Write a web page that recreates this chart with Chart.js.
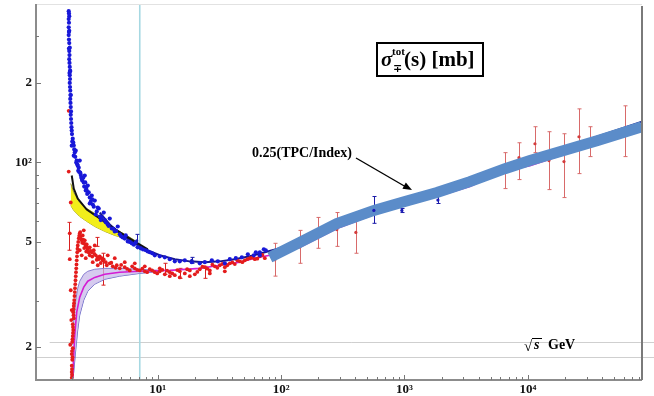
<!DOCTYPE html>
<html lang="en">
<head>
<meta charset="UTF-8">
<title>Total cross sections pp / pbar-p</title>
<script src="https://cdn.jsdelivr.net/npm/chart.js"></script>
<style>
  body { margin: 0; background: #fff; }
  #chart { display: block; }
</style>
</head>
<body>
<canvas id="chart" width="654" height="396"></canvas>
<script>
// sqrt(s) in GeV, sigma_tot in mb

// pbar-p data points
const pbarpPoints = [
  [1.897,374],[1.897,349],[1.897,325],[1.897,303.5],[1.916,283],[1.916,264],[1.916,246],
  [1.934,230],[1.934,214],[1.934,200],[1.952,187],[1.952,174],[1.970,162],[1.970,151.5],
  [1.989,141],[2.007,132],[2.045,123],[2.084,116],[2.123,109],[2.203,101.6],[2.287,95.5],
  [2.374,89.9],[2.511,83.9],[2.656,78.3],[2.809,73.6],[2.971,69.3],[3.201,65.2],[3.514,61.9],
  [3.930,58.2],[4.480,54.8],[5.201,52.0],[6.155,49.4],[7.280,47.3],[8.612,45.7],[10.38,44.1],
  [12.51,43.0],[15.08,42.2],[18.87,41.9],[24.06,41.9],[30.67,42.2],[38.37,43.0],[48.0,43.7],
  [60.06,44.5],[67.19,45.7],[75.1,46.5],
  [1.916,358],[1.916,315],[1.934,272],[1.952,222],[1.970,180],[2.007,115.7],[2.084,106.1],
  [2.163,110.8],[2.245,97.2],[2.330,101.6],[2.418,86.9],[2.559,89.2],[2.607,78.3],[2.706,81.7],
  [2.809,69.9],[2.916,74.9],[3.084,71.7],[3.143,63.5],[3.322,66.9],[3.386,62.4],[3.648,64.6],
  [3.788,59.3],[4.080,61.3],[4.236,56.2],[4.739,57.2],[4.918,53.4],[5.502,52.9],[5.710,50.2],
  [6.633,49.8],[6.884,47.7],[7.992,46.5],[9.456,44.5],[11.40,43.7],[13.74,42.2],[16.56,42.6],
  [21.91,41.5],[27.42,42.6],[34.95,41.5],[42.92,43.4],[53.70,44.9],[62.35,45.7],[67.19,44.5],
  [72.40,46.9],
  [1.906,366],[1.906,338],[1.906,312],[1.906,292],[1.906,270],[1.925,255],[1.925,238],[1.925,218],
  [1.943,222],[1.943,207],[1.943,193],[1.961,180],[1.961,168],[1.980,156],[1.980,146],[1.998,136],
  [2.016,128],[2.026,120],[2.064,119],[2.103,112],[2.143,105],[2.183,100],[2.224,98.5],[2.266,93],
  [2.308,92],[2.352,91.5],[2.396,88],[2.441,85.5],[2.487,87.5],[2.534,81],[2.583,84],[2.632,80],
  [2.681,76],[2.757,77],[2.862,71],[2.943,72.5],[3.027,68],[3.262,67.5],[3.450,60.5],[3.717,60.5],
  [4.000,57.5],[4.380,56],[4.600,55],[5.050,52.5],[5.400,51.5],[5.929,50.0],[6.400,48.8],
  [7.600,46.8],[8.300,46.0],[9.000,45.3]
];

// pp data points
const ppPoints = [
  [2.007,15.3],[2.007,16.1],[2.007,17.0],[2.026,17.9],[2.007,18.8],[2.045,19.8],[2.026,20.9],
  [2.045,22.0],[2.064,23.2],[2.045,24.4],[2.084,25.7],[2.064,27.1],[2.084,28.6],[2.103,30.1],
  [2.123,32.3],[2.143,34.6],[2.163,37.1],[2.183,39.7],[2.203,42.6],[2.224,45.7],[2.245,48.5],
  [2.287,51.6],[2.330,53.9],[2.374,52.5],[2.418,50.7],[2.464,52.9],[2.511,49.4],[2.559,50.7],
  [2.607,48.1],[2.656,48.9],[2.706,46.9],[2.809,47.7],[2.916,45.7],[3.027,46.5],[3.143,44.5],
  [3.262,43.7],[3.386,44.1],[3.580,42.6],[3.788,41.9],[4.080,41.5],[4.315,40.4],[4.651,40.8],
  [4.918,39.7],[5.400,40.1],[5.929,39.0],[6.510,39.7],[7.145,39.0],[7.846,38.7],[8.612,39.4],
  [9.456,38.4],[10.38,38.7],[11.40,37.7],[12.51,38.4],[13.74,37.4],[15.08,38.7],[16.56,38.0],
  [18.18,39.0],[19.96,37.7],[21.91,39.4],[24.06,40.1],[26.41,39.0],[29.00,40.4],[31.83,40.8],
  [34.95,40.1],[38.37,41.5],[42.12,41.2],[46.24,42.2],[50.77,42.6],[55.74,43.4],[61.19,43.0],
  [67.19,44.1],[73.77,43.4],
  [1.934,53.9],[1.934,43.0],[1.897,92.3],[1.897,156.8],[1.970,70.5],[1.970,32.8],[2.007,27.6],
  [1.989,25.3],[1.952,20.4],[2.330,46.5],[2.418,44.5],[2.511,55.3],[2.607,43.4],[2.809,44.5],
  [2.971,41.9],[3.084,48.5],[3.262,40.8],[3.514,43.4],[3.930,44.5],[4.480,43.4],[5.400,41.9],
  [6.510,41.5],[7.846,40.4],[10.38,39.7],[12.51,37.1],[15.08,36.7],[18.18,37.1],[26.41,38.0],
  [34.95,38.7],
  [2.016,15.7],[2.016,16.5],[2.035,18.3],[2.016,19.3],[2.035,21.4],[2.054,22.6],[2.054,23.8],
  [2.074,26.4],[2.074,27.8],[2.093,29.3],[2.113,31.2],[2.133,33.4],[2.153,35.8],[2.173,38.4],
  [2.193,41.1],[2.213,44.1],[2.234,47.1],[2.266,50.0],[2.308,52.8],[2.352,54.5],[2.396,51.2],
  [2.441,49.6],[2.487,51.0],[2.534,47.4],[2.583,49.0],[2.632,46.0],[2.681,47.6],[2.757,45.6],
  [2.862,46.2],[2.943,44.0],[3.060,45.0],[3.200,42.8],[3.320,43.0],[3.450,41.6],[3.650,42.9],
  [3.860,40.8],[4.200,41.7],[4.550,39.9],[5.050,40.9],[5.650,39.5],[6.200,40.4],[6.800,39.2],
  [7.500,39.6],[8.200,38.4],[9.000,39.0],[9.900,38.0],[10.9,39.2],[11.9,38.9],[13.1,38.0],
  [14.4,39.1],[17.3,39.4],[20.9,38.5],[23.0,40.3],[25.2,39.6],[27.7,41.0],[30.4,39.9],[33.4,41.3],
  [36.6,40.8],[40.2,41.8],[44.1,42.6],[48.5,41.9],[53.2,43.0],[58.4,43.6],[64.1,43.2],[70.5,44.6]
];

// pp high energy points with error bars
const ppHighX  = [88.9, 141.8, 198.5, 282.9, 403.4, 6522, 8472, 11420, 14830, 19630, 25970, 31890, 61320];
const ppHighY  = [42.8, 47.9, 54.1, 55.7, 54.3, 93.1, 104.2, 117.7, 101.6, 100.7, 125.1, 119.8, 131.3];
const ppHighLo = [37.1, 41.5, 47.3, 48.1, 45.3, 79.6, 86.1, 108.9, 78.9, 73.6, 90.7, 105.2, 105.2];
const ppHighHi = [49.4, 55.3, 61.9, 64.6, 63.0, 108.9, 118.7, 136.5, 130.7, 128.4, 159.5, 136.5, 163.8];

// pp low energy error bars
const ppErrX  = [1.897, 3.580, 3.201, 11.40, 15.08, 24.06];
const ppErrLo = [46.5, 34.3, 48.1, 37.7, 36.4, 36.4];
const ppErrHi = [59.3, 45.3, 52.0, 41.5, 39.7, 40.4];

// pbar-p error bars
const pbarErrX  = [6.757, 18.87, 564.8, 952, 1866];
const pbarErrY  = [50.5, 42.6, 65.8, 65.8, 72.0];
const pbarErrLo = [47.7, 41.5, 58.8, 64.6, 69.9];
const pbarErrHi = [53.4, 43.7, 74.3, 66.9, 74.9];

// fitted curves
const fitPbarX = [3.386,4.080,4.918,5.929,7.145,8.612,10.38,13.74,18.18,24.06,31.83,42.12,55.74,73.77,97.6,141.8,282.9,564.8,1007,1833,3388,6522,10400,19270,36350,84220];
const fitPbarY = [64.6,58.2,53.9,50.7,48.1,46.1,44.5,43.0,42.2,41.9,42.2,43.0,44.1,45.7,47.3,49.4,58.2,65.8,71.7,78.3,86.1,96.4,104.2,113.7,125.1,142.5];
const fitPpX = [2.045,2.084,2.123,2.203,2.330,2.511,2.706,3.084,3.717,4.918,7.145,12.51,21.91,31.83,46.24,61.19,81.0,141.8,282.9,564.8,1007,1833,3388,6522,10400,19270,36350,84220];
const fitPpY = [15.3,18.7,22.2,27.1,30.9,33.7,35.5,36.7,37.7,38.4,38.7,39.0,39.7,40.8,41.9,43.4,44.5,47.7,56.2,63.5,68.7,74.3,81.0,93.1,97.2,107.0,117.7,134.1];
const modelX = [2.007,2.084,2.245,2.656,3.386,4.651,6.270,8.297];
const modelY = [89.2,79.6,73.0,66.3,61.3,55.3,50.7,46.9];

// uncertainty bands
const yellowX  = [1.970,2.084,2.330,2.656,3.084,3.717,4.480,5.400,6.510];
const yellowHi = [83.2,76.9,70.5,66.9,64.1,60.3,56.2,53.4,50.7];
const yellowLo = [68.7,65.8,62.4,59.8,57.2,54.8,52.9,51.6,50.2];
const lavX  = [2.03,2.084,2.163,2.245,2.330,2.511,2.706,3.084,3.717,4.918,7.145,10.38];
const lavHi = [20.4,25.3,30.1,33.4,35.5,37.7,38.7,39.4,39.7,39.7,39.4,39.0];
const lavLo = [14.8,16.1,19.5,23.2,26.4,30.1,32.5,34.6,36.1,37.1,38.0,38.7];

// 0.25 (TPC/Index) band
const tpcX = [81.0,141.8,282.9,564.8,1007,1833,3388,6522,10400,19270,36350,84000];
const tpcY = [43.7,49.8,58.7,65.8,71.1,76.9,84.6,94.7,101.7,110.8,120.8,136.4];

// marker lines
const markerX = 7.145;
const refLineY = [20.9, 18.4];
const refLineFrom = [1.33, 1.03];

// axes
const xMin = 1.03, xMax = 84200, yMin = 15.0, yMax = 398;
const xTickValues = [10, 100, 1000, 10000];
const xTickLabels = ['10\u00b9', '10\u00b2', '10\u00b3', '10\u2074'];
const yTickValues = [20, 50, 100, 200];
const yTickLabels = ['2', '5', '10\u00b2', '2'];
const yMinorTicks = [30, 40, 60, 70, 80, 90, 300];

const pts = (xs, ys) => xs.map((x, i) => ({x: x, y: ys[i]}));
const pairs = arr => arr.map(p => ({x: p[0], y: p[1]}));

const serif = '"Liberation Serif", "DejaVu Serif", serif';

function errBars(ctx, x, y, xs, lo, hi, color) {
  ctx.strokeStyle = color;
  ctx.lineWidth = 1;
  xs.forEach((v, i) => {
    const px = Math.round(x.getPixelForValue(v)) + 0.5;
    const y1 = y.getPixelForValue(lo[i]);
    const y2 = y.getPixelForValue(hi[i]);
    ctx.beginPath();
    ctx.moveTo(px, y1); ctx.lineTo(px, y2);
    ctx.moveTo(px - 2, y1); ctx.lineTo(px + 2, y1);
    ctx.moveTo(px - 2, y2); ctx.lineTo(px + 2, y2);
    ctx.stroke();
  });
}

// scales must not reserve room for half tick labels at the ends
function noEdgePadding(s) {
  s.paddingTop = 0; s.paddingBottom = 0; s.paddingLeft = 0; s.paddingRight = 0;
}

const decor = {
  id: 'decor',
  beforeDatasetsDraw(chart) {
    const {ctx, chartArea: a, scales: {x, y}} = chart;
    ctx.save();
    // light grey guide lines (run out past the frame)
    ctx.strokeStyle = '#cfcfcf';
    ctx.lineWidth = 1;
    refLineY.forEach((v, i) => {
      const py = Math.round(y.getPixelForValue(v)) + 0.5;
      ctx.beginPath();
      ctx.moveTo(Math.max(a.left, x.getPixelForValue(refLineFrom[i])), py);
      ctx.lineTo(chart.width, py);
      ctx.stroke();
    });
    // cyan vertical marker
    const cx = x.getPixelForValue(markerX);
    ctx.strokeStyle = '#a6d8e2';
    ctx.lineWidth = 1.6;
    ctx.beginPath();
    ctx.moveTo(cx, a.top); ctx.lineTo(cx, a.bottom);
    ctx.stroke();
    // error bars sit under the points and the band
    errBars(ctx, x, y, ppHighX, ppHighLo, ppHighHi, '#d86a6a');
    errBars(ctx, x, y, ppErrX, ppErrLo, ppErrHi, '#d82020');
    errBars(ctx, x, y, pbarErrX, pbarErrLo, pbarErrHi, '#1a1aa8');
    ctx.restore();
  },
  afterDraw(chart) {
    const {ctx, chartArea: a, scales: {x, y}} = chart;
    ctx.save();
    // frame
    ctx.strokeStyle = '#e2e2e2'; ctx.lineWidth = 1;
    ctx.beginPath(); ctx.moveTo(a.left, a.top + 0.5); ctx.lineTo(a.right, a.top + 0.5); ctx.stroke();
    ctx.strokeStyle = '#8c8c8c'; ctx.lineWidth = 2;
    ctx.beginPath();
    ctx.moveTo(a.left, a.top); ctx.lineTo(a.left, a.bottom); ctx.lineTo(a.right, a.bottom);
    ctx.stroke();
    ctx.strokeStyle = '#7a7a7a';
    ctx.beginPath(); ctx.moveTo(a.right, a.top + 2); ctx.lineTo(a.right, a.bottom); ctx.stroke();

    // tick marks, drawn inward
    ctx.strokeStyle = '#777'; ctx.lineWidth = 1;
    ctx.beginPath();
    for (let d = 1; d <= 10000; d *= 10) {
      for (let m = 1; m <= 9; m++) {
        const v = d * m;
        if (v < xMin || v > xMax) continue;
        const px = Math.round(x.getPixelForValue(v)) + 0.5;
        const len = m === 1 ? 5 : 3;
        ctx.moveTo(px, a.bottom); ctx.lineTo(px, a.bottom - len);
      }
    }
    yTickValues.forEach(v => {
      const py = Math.round(y.getPixelForValue(v)) + 0.5;
      ctx.moveTo(a.left, py); ctx.lineTo(a.left + 5, py);
    });
    yMinorTicks.forEach(v => {
      const py = Math.round(y.getPixelForValue(v)) + 0.5;
      ctx.moveTo(a.left, py); ctx.lineTo(a.left + 3, py);
    });
    ctx.stroke();

    // title box
    ctx.fillStyle = '#000';
    ctx.strokeStyle = '#000';
    ctx.lineWidth = 2;
    ctx.strokeRect(377, 43, 106, 33);
    ctx.textBaseline = 'alphabetic';
    ctx.textAlign = 'left';
    ctx.font = 'italic bold 21px ' + serif;
    ctx.fillText('\u03c3', 381, 66);
    ctx.font = 'bold 11px ' + serif;
    ctx.fillText('tot', 392, 55);
    ctx.fillText('\u2213', 393, 72);
    ctx.font = 'bold 21px ' + serif;
    ctx.fillText('(s) [mb]', 404, 66);

    // band annotation and arrow
    ctx.font = 'bold 14px ' + serif;
    ctx.fillText('0.25(TPC/Index)', 252, 157);
    ctx.lineWidth = 1.4;
    ctx.beginPath(); ctx.moveTo(356, 158); ctx.lineTo(406, 187); ctx.stroke();
    const ang = Math.atan2(189 - 158, 412 - 356);
    ctx.beginPath();
    ctx.moveTo(412, 190);
    ctx.lineTo(412 - 9 * Math.cos(ang) + 3.5 * Math.sin(ang), 190 - 9 * Math.sin(ang) - 3.5 * Math.cos(ang));
    ctx.lineTo(412 - 9 * Math.cos(ang) - 3.5 * Math.sin(ang), 190 - 9 * Math.sin(ang) + 3.5 * Math.cos(ang));
    ctx.closePath(); ctx.fill();

    // sqrt(s) GeV axis caption
    ctx.font = 'bold 15px ' + serif;
    ctx.fillText('\u221a', 524, 351);
    ctx.font = 'italic bold 14px ' + serif;
    ctx.fillText('s', 534, 349);
    ctx.lineWidth = 1;
    ctx.beginPath(); ctx.moveTo(532, 338.5); ctx.lineTo(542, 338.5); ctx.stroke();
    ctx.font = 'bold 14px ' + serif;
    ctx.fillText('GeV', 548, 349);
    ctx.restore();
  }
};

new Chart(document.getElementById('chart'), {
  type: 'scatter',
  data: {
    datasets: [
      { type: 'line', label: '0.25(TPC/Index)', data: pts(tpcX, tpcY), borderColor: '#5b8cc9',
        borderWidth: 11, borderCapStyle: 'butt', pointRadius: 0, order: 1 },
      { label: 'pbar-p high', data: pts(pbarErrX, pbarErrY), backgroundColor: '#1a1ab8',
        borderWidth: 0, pointRadius: 1.6, order: 0 },
      { label: 'pbar-p', data: pairs(pbarpPoints), backgroundColor: '#1818d8',
        borderWidth: 0, pointRadius: 2.1, order: 2 },
      { label: 'pp', data: pairs(ppPoints), backgroundColor: '#e41c1c',
        borderWidth: 0, pointRadius: 1.9, order: 3 },
      { label: 'pp high', data: pts(ppHighX, ppHighY), backgroundColor: '#d43c3c',
        borderWidth: 0, pointRadius: 1.6, order: 3 },
      { type: 'line', label: 'model', data: pts(modelX, modelY), borderColor: '#111',
        borderWidth: 2, pointRadius: 0, order: 4 },
      { type: 'line', label: 'pbar-p fit', data: pts(fitPbarX, fitPbarY), borderColor: '#17178c',
        borderWidth: 2, pointRadius: 0, order: 5 },
      { type: 'line', label: 'pp fit', data: pts(fitPpX, fitPpY), borderColor: '#d41cd4',
        borderWidth: 1.6, pointRadius: 0, order: 6 },
      { type: 'line', label: 'pp band hi', data: pts(lavX, lavHi), borderColor: '#8a7fd0',
        borderWidth: 1, pointRadius: 0, fill: '+1', backgroundColor: 'rgba(200,186,234,0.75)', order: 7 },
      { type: 'line', label: 'pp band lo', data: pts(lavX, lavLo), borderColor: '#5a5ac0',
        borderWidth: 1, pointRadius: 0, order: 8 },
      { type: 'line', label: 'pbar-p band hi', data: pts(yellowX, yellowHi), borderColor: '#9a9a2a',
        borderWidth: 1, pointRadius: 0, fill: '+1', backgroundColor: '#f2ee1a', order: 9 },
      { type: 'line', label: 'pbar-p band lo', data: pts(yellowX, yellowLo), borderColor: '#9a9a2a',
        borderWidth: 1, pointRadius: 0, order: 10 }
    ]
  },
  options: {
    responsive: false,
    animation: false,
    devicePixelRatio: 1,
    layout: { padding: { left: 0, top: 3, right: 12, bottom: 0 } },
    plugins: { legend: { display: false }, tooltip: { enabled: false } },
    scales: {
      x: {
        type: 'logarithmic', min: xMin, max: xMax, bounds: 'data',
        grid: { display: false, drawTicks: false }, border: { display: false },
        afterFit: s => { s.height = 16; noEdgePadding(s); },
        afterBuildTicks: s => { s.ticks = xTickValues.map(v => ({value: v})); },
        ticks: {
          padding: 2, color: '#111', maxRotation: 0, autoSkip: false,
          font: { family: serif, weight: 'bold', size: 13 },
          callback: (v, i) => xTickLabels[i]
        }
      },
      y: {
        type: 'logarithmic', min: yMin, max: yMax, bounds: 'data',
        grid: { display: false, drawTicks: false }, border: { display: false },
        afterFit: s => { s.width = 36; noEdgePadding(s); },
        afterBuildTicks: s => { s.ticks = yTickValues.map(v => ({value: v})); },
        ticks: {
          padding: 4, color: '#111', autoSkip: false,
          font: { family: serif, weight: 'bold', size: 13 },
          callback: (v, i) => yTickLabels[i]
        }
      }
    }
  },
  plugins: [decor]
});
</script>
</body>
</html>
